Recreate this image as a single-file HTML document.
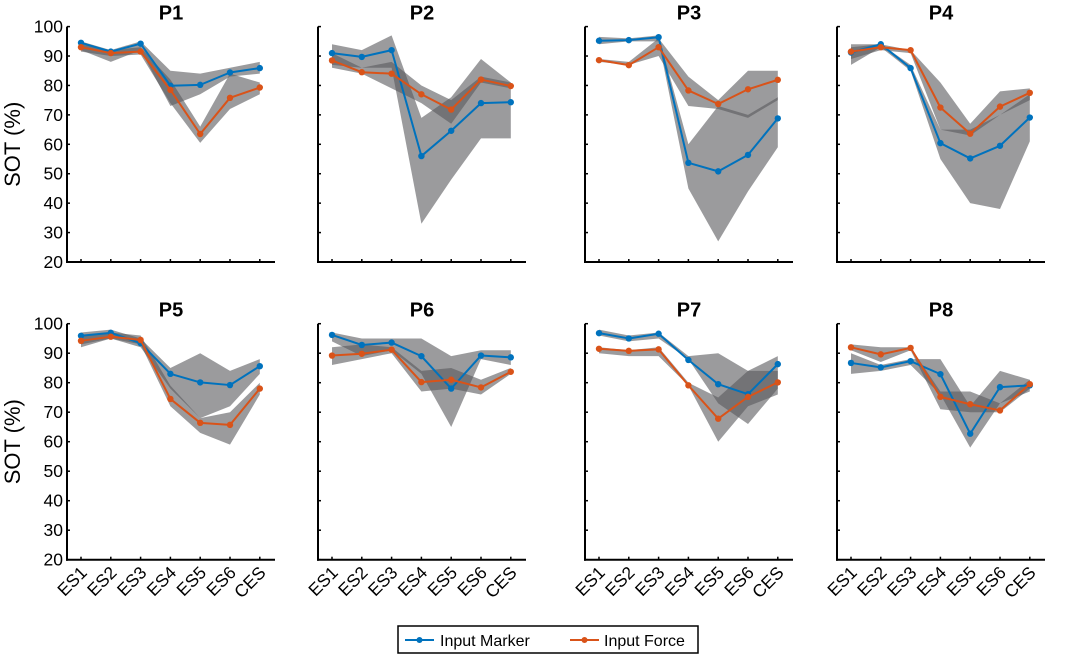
<!DOCTYPE html>
<html><head><meta charset="utf-8"><style>
html,body{margin:0;padding:0;background:#fff;}
svg{display:block;font-family:"Liberation Sans",Arial,sans-serif;}
</style></head><body>
<svg id="chart" width="1065" height="656" viewBox="0 0 1065 656" xmlns="http://www.w3.org/2000/svg">
<g id="legend">
<rect x="398" y="626" width="300" height="27" fill="#fff" stroke="#000" stroke-width="1.5"/>
<g>
<line x1="405" y1="640" x2="434" y2="640" stroke="#0072BD" stroke-width="2"/><circle cx="419.5" cy="640" r="3" fill="#0072BD"/>
<text x="440" y="646" font-size="16">Input Marker</text></g>
<g>
<line x1="570" y1="640" x2="599" y2="640" stroke="#D95319" stroke-width="2"/><circle cx="584.5" cy="640" r="3" fill="#D95319"/>
<text x="604" y="646" font-size="16">Input Force</text></g>
</g>
</svg>
<script>
const categories = ["ES1","ES2","ES3","ES4","ES5","ES6","CES"];
const panelTitles = ["P1","P2","P3","P4","P5","P6","P7","P8"];
const yTicks = [20,30,40,50,60,70,80,90,100];
const markerMean = [
 [94.5,91.5,94.2,79.9,80.2,84.4,85.9],
 [91,89.7,92,56,64.6,74,74.3],
 [95.2,95.4,96.4,53.7,50.8,56.4,68.8],
 [91.2,94,85.9,60.4,55.2,59.5,69.1],
 [95.9,96.9,93.4,83,80.1,79.2,85.6],
 [96.2,92.8,93.6,89,78,89.2,88.6],
 [96.8,95,96.6,87.7,79.5,76.1,86.3],
 [86.7,85.2,87.3,82.9,62.7,78.5,79.1]];
const markerLo = [
 [92,88,92,73,77,83,84],[87,86,86,33,48,62,62],[94,95,95,45,27,44,59],[87,93,85,55,40,38,61],
 [93,95,92,78,68,72,83],[94,89,91,83,65,88,86],[96,94,95,88,73,66,78],[83,84,86,76,58,73,77]];
const markerHi = [
 [95,92,95,85,84,86,88],[94,92,97,69,76,89,81],[96.5,96,97,60,73,70,76],[93,94,87,65,65,70,77],
 [97,98,95,85,90,84,88],[97,95,95,95,89,91,91],[98,96,97,89,90,84,89],[90,86,88,88,72,84,81]];
const forceMean = [
 [93,91,91.5,78.5,63.5,75.8,79.3],
 [88.5,84.5,84,77,71.8,82,79.8],
 [88.6,86.9,93,78.3,73.7,78.7,81.9],
 [91.5,93,92,72.5,63.6,72.8,77.5],
 [94.2,95.6,94.5,74.5,66.4,65.7,78],
 [89.2,89.8,91.2,80.2,81,78.4,83.7],
 [91.5,90.8,91.3,79.1,67.8,75.2,80.1],
 [92,89.6,91.8,75.2,72.7,70.6,79.5]];
const forceLo = [
 [91.5,90,90.5,74,60.5,72,77],[86,84,79,74,67,81,79],[88,87,90,73,72,69,75],[89,92,91,65,63,70,75],
 [92,95,93,72,63,59,76],[86,88,90,77,78,76,83],[90,89,89,79,60,72,76],[91,87,91,71,70,70,78]];
const forceHi = [
 [94,92,93,82,66,84,81],[91,86,88,80,75,83,81],[89,88,96,83,75,85,85],[94,94,92,81,67,78,79],
 [96,97,96,79,68,70,80],[92,93,92,84,85,81,85],[92,91,92,80,75,84,84],[93,92,92,77,77,73,81]];

const NS="http://www.w3.org/2000/svg";
const svg=document.getElementById('chart');
const legend=document.getElementById('legend');
const axisXs=[67,318,585,837];
const rowTop=[26.6,323.7], rowBot=[262,559.7];
function mk(tag,attrs,parent){const e=document.createElementNS(NS,tag);for(const k in attrs)e.setAttribute(k,attrs[k]);(parent||svg).appendChild(e);return e;}

for(let p=0;p<8;p++){
  const row=Math.floor(p/4), col=p%4;
  const ax=axisXs[col], yT=rowTop[row], yB=rowBot[row];
  const xS=i=>ax+14+i*29.8;
  const yS=v=>yB-(v-20)/80*(yB-yT);
  const g=mk('g',{});
  
  
  svg.insertBefore(g,legend);
  const bands=[[markerLo[p],markerHi[p],'marker'],[forceLo[p],forceHi[p],'force']];
  bands.forEach(b=>{
    let pts=[];
    for(let i=0;i<categories.length;i++)pts.push(xS(i)+','+yS(b[1][i]));
    for(let i=categories.length-1;i>=0;i--)pts.push(xS(i)+','+yS(b[0][i]));
    const poly=mk('polygon',{points:pts.join(' '),fill:'#58585c','fill-opacity':0.6},g);
    
    
  });
  const axes=mk('g',{},g);
  
  
  mk('line',{x1:ax,y1:yT,x2:ax,y2:yB+1,stroke:'#000','stroke-width':2},axes);
  mk('line',{x1:ax-1,y1:yB,x2:ax+208,y2:yB,stroke:'#000','stroke-width':2},axes);
  yTicks.forEach(t=>{
    mk('line',{x1:ax,y1:yS(t),x2:ax+3,y2:yS(t),stroke:'#000','stroke-width':1.5},axes);
    if(col===0){const tx=mk('text',{x:ax-4,y:yS(t)+6,'font-size':17.5,'text-anchor':'end'},axes);tx.textContent=t;
      
      }
  });
  categories.forEach((c,i)=>{
    mk('line',{x1:xS(i),y1:yB,x2:xS(i),y2:yB-3,stroke:'#000','stroke-width':1.5},axes);
    if(row===1){const tx=mk('text',{x:0,y:0,'font-size':17.5,'text-anchor':'end',transform:`translate(${xS(i)+7},${yB+14}) rotate(-45)`},axes);tx.textContent=c;
      
      }
  });
  const title=mk('text',{x:ax+104,y:yT-7,'font-size':20,'font-weight':'bold','text-anchor':'middle'},g);
  title.textContent=panelTitles[p];
  
  
  if(col===0){const yl=mk('text',{x:0,y:0,'font-size':22,'text-anchor':'middle',transform:`translate(20,${(yT+yB)/2}) rotate(-90)`},g);yl.textContent='SOT (%)';
    
    }
  [[markerMean[p],'#0072BD','marker'],[forceMean[p],'#D95319','force']].forEach(s=>{
    const sg=mk('g',{},g);
    
    
    mk('polyline',{points:s[0].map((v,i)=>xS(i)+','+yS(v)).join(' '),fill:'none',stroke:s[1],'stroke-width':2,'stroke-linejoin':'round'},sg);
    s[0].forEach((v,i)=>{const c=mk('circle',{cx:xS(i),cy:yS(v),r:3.2,fill:s[1]},sg);
      
      });
  });
}
</script>
</body></html>
